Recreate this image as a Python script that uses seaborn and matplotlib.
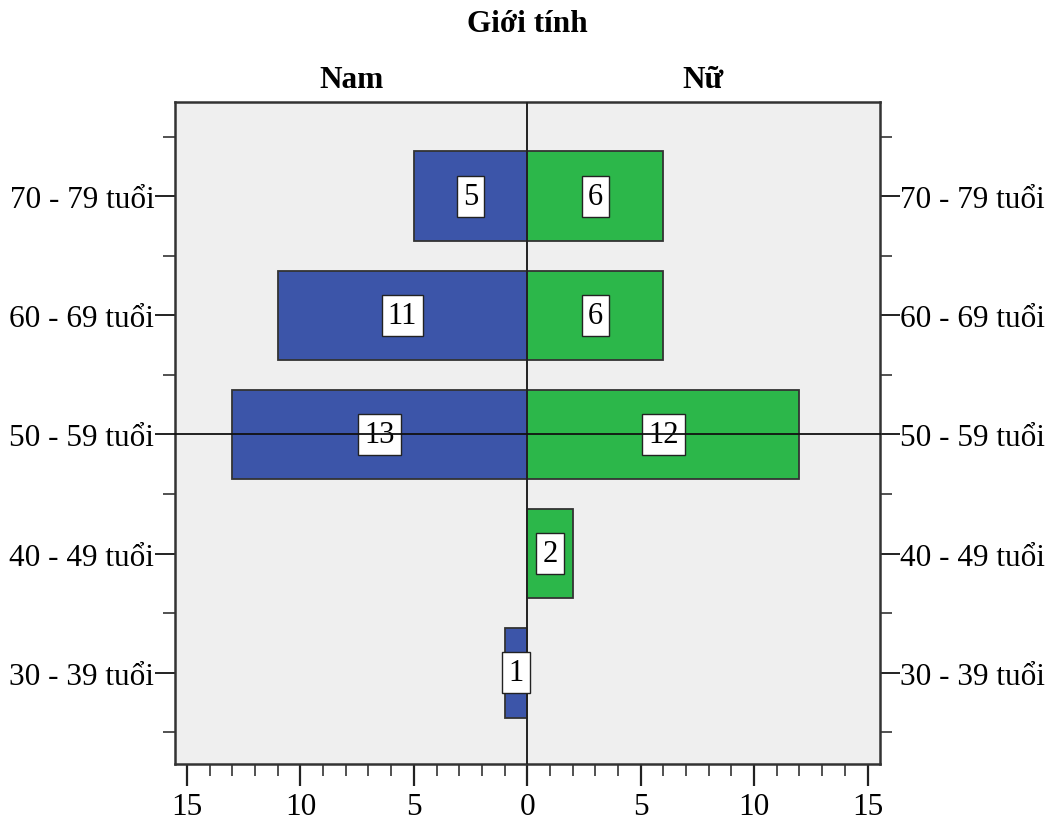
import matplotlib
matplotlib.use("Agg")
import matplotlib.pyplot as plt
import matplotlib.ticker as mticker
import numpy as np
import pandas as pd
import seaborn as sns

# Age groups listed top to bottom
age_groups = ["70 - 79 tuổi", "60 - 69 tuổi", "50 - 59 tuổi", "40 - 49 tuổi", "30 - 39 tuổi"]
male_counts = [5, 11, 13, 0, 1]      # Nam
female_counts = [6, 6, 12, 2, 0]     # Nữ
genders = ["Nam", "Nữ"]
x_major_ticks = [-15, -10, -5, 0, 5, 10, 15]

male_color = "#3C55A9"
female_color = "#2CB74A"

plt.rcParams["font.family"] = ["Liberation Serif", "DejaVu Serif"]

rows = []
for g, m, f in zip(age_groups, male_counts, female_counts):
    rows.append({"age": g, "gender": genders[0], "value": -m})
    rows.append({"age": g, "gender": genders[1], "value": f})
df = pd.DataFrame(rows)

fig = plt.figure(figsize=(10.54, 8.20), dpi=100)
ax = fig.add_axes([174.5 / 1054, 55 / 820, (880 - 174.5) / 1054, (765 - 103) / 820])
ax.set_facecolor("#EFEFEF")

sns.barplot(data=df, x="value", y="age", hue="gender", order=age_groups,
            hue_order=genders, palette=[male_color, female_color],
            saturation=1, dodge=False, width=0.75, orient="h",
            edgecolor="#333333", linewidth=1.3, legend=False, ax=ax, zorder=2)

ax.set_xlim(-15.55, 15.55)
ax.set_ylim(4.765, -0.79)

# value labels in white boxes at the middle of each bar
for i, (m, f) in enumerate(zip(male_counts, female_counts)):
    for v, sgn in ((m, -1), (f, 1)):
        if v > 0:
            ax.text(sgn * v / 2, i, str(v), ha="center", va="center",
                    fontsize=22, zorder=4,
                    bbox=dict(boxstyle="square,pad=0.2", facecolor="white",
                              edgecolor="#222222", linewidth=1.0))

# centre divider and reference line
ax.axvline(0, color="#222222", lw=1.4, zorder=3)
ax.axhline(2, color="#111111", lw=1.3, zorder=5, clip_on=False)

# axes styling
for s in ax.spines.values():
    s.set_color("#333333")
    s.set_linewidth(1.8)

ax.xaxis.set_major_locator(mticker.FixedLocator(x_major_ticks))
ax.xaxis.set_minor_locator(mticker.FixedLocator(np.arange(-15, 16, 1)))
ax.xaxis.set_major_formatter(mticker.FuncFormatter(lambda v, p: f"{abs(int(v))}"))
ax.yaxis.set_minor_locator(mticker.FixedLocator(np.arange(-0.5, 5, 1)))

ax.tick_params(axis="x", which="major", direction="out", length=16, width=1.6,
               color="#222222", labelsize=22.5, pad=4)
ax.tick_params(axis="x", which="minor", direction="out", length=8.5, width=1.2,
               color="#333333")
ax.tick_params(axis="y", which="major", direction="out", length=14.5, width=1.4,
               color="#222222", labelsize=22.5, pad=0,
               left=True, right=True, labelleft=True, labelright=True)
ax.tick_params(axis="y", which="minor", direction="out", length=8.5, width=1.2,
               color="#333333", left=True, right=True)
ax.set_xlabel("")
ax.set_ylabel("")

fig.text(527 / 1054, 1 - 25 / 820, "Giới tính", ha="center", va="center",
         fontsize=22.5, fontweight="bold")
fig.text(351 / 1054, 1 - 80 / 820, genders[0], ha="center", va="center",
         fontsize=22.5, fontweight="bold")
fig.text(703 / 1054, 1 - 80 / 820, genders[1], ha="center", va="center",
         fontsize=22.5, fontweight="bold")

fig.savefig("out.png", dpi=100, facecolor="white")
